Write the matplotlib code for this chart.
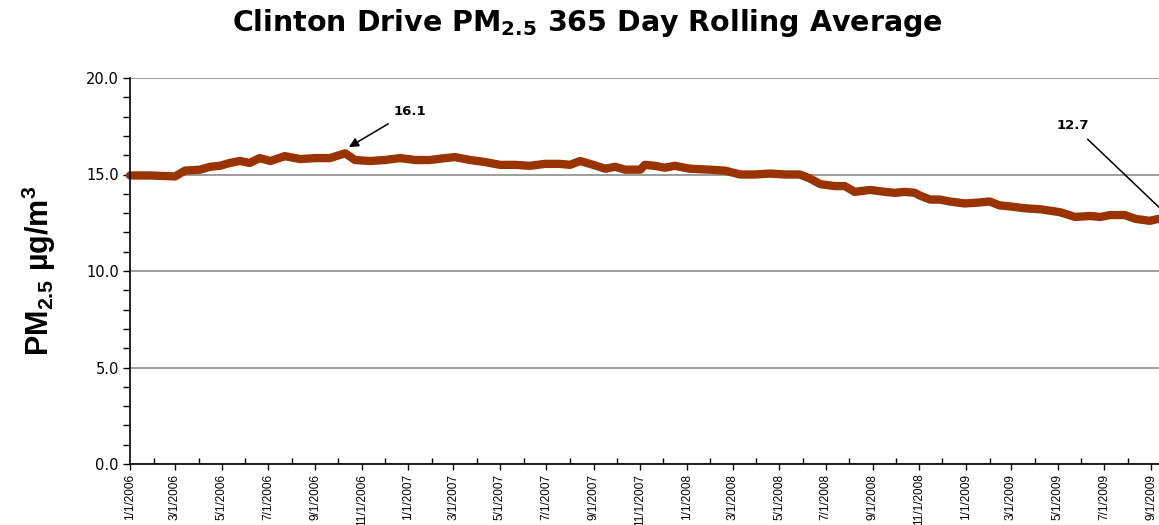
import numpy as np
import pandas as pd
import matplotlib
matplotlib.use("Agg")
import matplotlib.pyplot as plt
import matplotlib.dates as mdates
from matplotlib.ticker import MultipleLocator, FormatStrFormatter

# 365-day rolling average (ug/m3)
dates = [
    "2006-01-01", "2006-01-27", "2006-03-01", "2006-03-14", "2006-04-03", "2006-04-16",
    "2006-04-29", "2006-05-12", "2006-05-25", "2006-06-07", "2006-06-20", "2006-07-04",
    "2006-07-23", "2006-08-12", "2006-09-01", "2006-09-20", "2006-10-10", "2006-10-23",
    "2006-11-12", "2006-12-01", "2006-12-21", "2007-01-10", "2007-01-29", "2007-02-18",
    "2007-03-03", "2007-03-23", "2007-04-11", "2007-05-01", "2007-05-21", "2007-06-09",
    "2007-06-29", "2007-07-19", "2007-08-01", "2007-08-14", "2007-08-27", "2007-09-16",
    "2007-09-29", "2007-10-12", "2007-11-01", "2007-11-07", "2007-11-20", "2007-12-03",
    "2007-12-16", "2008-01-05", "2008-01-31", "2008-02-20", "2008-03-11", "2008-03-30",
    "2008-04-19", "2008-05-09", "2008-05-28", "2008-06-10", "2008-06-24", "2008-07-13",
    "2008-07-26", "2008-08-08", "2008-08-28", "2008-09-17", "2008-09-30", "2008-10-13",
    "2008-10-26", "2008-11-02", "2008-11-15", "2008-11-28", "2008-12-11", "2008-12-30",
    "2009-01-19", "2009-02-01", "2009-02-14", "2009-02-27", "2009-03-19", "2009-04-08",
    "2009-05-04", "2009-05-24", "2009-06-13", "2009-06-26", "2009-07-09", "2009-07-28",
    "2009-08-11", "2009-08-30", "2009-09-10",
]
pm25 = [
    14.95, 14.95, 14.9, 15.2, 15.25, 15.4,
    15.45, 15.6, 15.7, 15.6, 15.85, 15.7,
    15.95, 15.8, 15.85, 15.85, 16.1, 15.75,
    15.7, 15.75, 15.85, 15.75, 15.75, 15.85,
    15.9, 15.75, 15.65, 15.5, 15.5, 15.45,
    15.55, 15.55, 15.5, 15.7, 15.55, 15.3,
    15.4, 15.25, 15.25, 15.5, 15.45, 15.35,
    15.45, 15.3, 15.25, 15.2, 15.0, 15.0,
    15.05, 15.0, 15.0, 14.8, 14.5, 14.4,
    14.4, 14.1, 14.2, 14.1, 14.05, 14.1,
    14.05, 13.9, 13.7, 13.7, 13.6, 13.5,
    13.55, 13.6, 13.4, 13.35, 13.25, 13.2,
    13.05, 12.8, 12.85, 12.8, 12.9, 12.9,
    12.7, 12.6, 12.7,
]
peak_val, last_val = 16.1, 12.7

REG = ["Liberation Sans", "DejaVu Sans"]
WIDE = ["DejaVu Sans"]
plt.rcParams["mathtext.default"] = "regular"

x = pd.to_datetime(dates)
fig = plt.figure(figsize=(11.59, 5.25), dpi=100)
ax = fig.add_axes([130 / 1159, 61 / 525, 1 - 130 / 1159, 386 / 525])

ax.plot(x, pm25, color="#993300", lw=6, solid_joinstyle="round", solid_capstyle="round",
        zorder=3, clip_on=False)

ax.set_ylim(0, 20)
ax.set_xlim(pd.Timestamp("2006-01-01"), pd.Timestamp("2009-09-11"))
ax.yaxis.set_major_locator(MultipleLocator(5))
ax.yaxis.set_minor_locator(MultipleLocator(1))
ax.yaxis.set_major_formatter(FormatStrFormatter("%.1f"))
ax.xaxis.set_major_locator(mdates.MonthLocator(bymonth=[1, 3, 5, 7, 9, 11]))
ax.xaxis.set_minor_locator(mdates.MonthLocator(bymonth=[2, 4, 6, 8, 10, 12]))
ax.xaxis.set_major_formatter(mdates.DateFormatter("%-m/%-d/%Y"))

ax.grid(axis="y", which="major", color="#8c8c8c", lw=1.2, zorder=1)
for sp in ("top", "right"):
    ax.spines[sp].set_visible(False)
for sp in ("left", "bottom"):
    ax.spines[sp].set_linewidth(1.2)
    ax.spines[sp].set_zorder(4)

ax.tick_params(axis="y", which="both", direction="out", length=5, width=1, pad=3)
ax.tick_params(axis="x", which="major", direction="out", length=4, width=1, pad=3)
ax.tick_params(axis="x", which="minor", direction="in", length=4, width=1)
for lab in ax.get_yticklabels():
    lab.set_family(WIDE); lab.set_fontsize(10.5)
for lab in ax.get_xticklabels():
    lab.set_family(REG); lab.set_fontsize(8.5); lab.set_rotation(90)

ax.set_ylabel("PM$_{2.5}$ µg/m$^3$", family=REG, fontsize=22, fontweight="bold", labelpad=20)
fig.text(0.507, 0.956, "Clinton Drive PM$_{2.5}$ 365 Day Rolling Average", ha="center", va="center",
         family=WIDE, fontsize=20.5, fontweight="bold")

ax.annotate(f"{peak_val:.1f}", xy=(pd.Timestamp("2006-10-15"), 16.42),
            xytext=(pd.Timestamp("2007-01-03"), 18.29), ha="center", va="center",
            family=WIDE, fontsize=9.5, fontweight="bold",
            arrowprops=dict(arrowstyle="-|>", color="black", lw=1.1, shrinkA=5, shrinkB=0,
                            mutation_scale=14))
ax.annotate(f"{last_val:.1f}", xy=(pd.Timestamp("2009-09-27"), last_val),
            xytext=(pd.Timestamp("2009-05-21"), 17.56), ha="center", va="center",
            family=WIDE, fontsize=9.5, fontweight="bold", annotation_clip=False,
            arrowprops=dict(arrowstyle="-|>", color="black", lw=1.1, shrinkA=5, shrinkB=0,
                            mutation_scale=14))

fig.savefig("out.png", dpi=100)
